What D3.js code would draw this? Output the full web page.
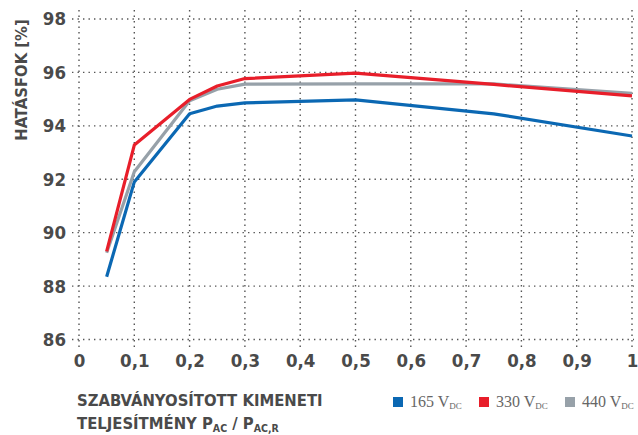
<!DOCTYPE html>
<html>
<head>
<meta charset="utf-8">
<script src="https://cdn.jsdelivr.net/npm/d3@7"></script>
<style>
  body { margin: 0; background: #fff; }
  .lbl { font-family: "Liberation Sans Narrow", "DejaVu Sans Condensed", "Roboto", sans-serif; font-weight: bold; fill: #4a4a4a; font-stretch: condensed; }
  .leg { font-family: "Liberation Serif", "DejaVu Serif", serif; fill: #666; }
</style>
</head>
<body>
<div id="chart"></div>
<script>
// load ratio (P_AC / P_AC,R)
const loads = [0.05, 0.1, 0.2, 0.25, 0.3, 0.5, 0.75, 1.0];
// efficiency [%] per DC voltage
const eff165 = [88.35, 91.9, 94.45, 94.74, 94.86, 94.97, 94.45, 93.62];
const eff330 = [89.3, 93.28, 94.99, 95.49, 95.77, 95.97, 95.55, 95.12];
const eff440 = [89.25, 92.28, 94.94, 95.37, 95.56, 95.57, 95.57, 95.22];
const seriesNames = ["165", "330", "440"];
const colors = ["#0b68b3", "#e81e2a", "#97a1a9"];
const xTicks = [0, 0.1, 0.2, 0.3, 0.4, 0.5, 0.6, 0.7, 0.8, 0.9, 1];
const yTicks = [86, 88, 90, 92, 94, 96, 98];

const width = 638, height = 435;
const svg = d3.select("#chart").append("svg")
  .attr("width", width).attr("height", height);

const x = d3.scaleLinear().domain([0, 1]).range([79, 632]);
const y = d3.scaleLinear().domain([86, 98]).range([339.5, 19]);

const loc = d3.formatLocale({decimal: ",", thousands: " ", grouping: [3], currency: ["", ""]});
const fmt = loc.format("~g");

// grid
svg.append("g").selectAll("line").data(yTicks).join("line")
  .attr("x1", 72).attr("x2", 634)
  .attr("y1", d => y(d)).attr("y2", d => y(d))
  .attr("stroke", "#555").attr("stroke-width", 1.4).attr("stroke-dasharray", "1.4,4.1");
svg.append("g").selectAll("line").data(xTicks).join("line")
  .attr("x1", d => x(d)).attr("x2", d => x(d))
  .attr("y1", 10).attr("y2", 347)
  .attr("stroke", "#555").attr("stroke-width", 1.4).attr("stroke-dasharray", "1.4,4.1");

// axes
const yAxis = svg.append("g").attr("transform", "translate(79,0)")
  .call(d3.axisLeft(y).tickValues(yTicks).tickSize(0).tickPadding(13));
const xAxis = svg.append("g").attr("transform", "translate(0,339.5)")
  .call(d3.axisBottom(x).tickValues(xTicks).tickSize(0).tickPadding(14).tickFormat(fmt));
[yAxis, xAxis].forEach(a => {
  a.select(".domain").remove();
  a.selectAll("text").attr("class", "lbl").attr("font-size", 18.5).attr("fill", null);
});

// lines
const data = [eff165, eff330, eff440].map(vals => loads.map((l, i) => ({x: l, y: vals[i]})));
const line = d3.line().x(d => x(d.x)).y(d => y(d.y));
[0, 2, 1].forEach(i => {
  svg.append("path").datum(data[i])
    .attr("fill", "none").attr("stroke", colors[i])
    .attr("stroke-width", 3.2).attr("stroke-linejoin", "round")
    .attr("d", line);
});

// axis titles
svg.append("text").attr("class", "lbl").attr("font-size", 16.5)
  .attr("transform", "translate(27,80) rotate(-90)")
  .attr("text-anchor", "middle").text("HATÁSFOK [%]");

const t1 = svg.append("text").attr("class", "lbl").attr("font-size", 16.5);
t1.append("tspan").attr("x", 77).attr("y", 406).text("SZABVÁNYOSÍTOTT KIMENETI");
const t2 = svg.append("text").attr("class", "lbl").attr("font-size", 16.5).attr("x", 77).attr("y", 429);
t2.append("tspan").text("TELJESÍTMÉNY P");
t2.append("tspan").attr("font-size", 10.5).attr("dy", 3).text("AC");
t2.append("tspan").attr("dy", -3).text(" / P");
t2.append("tspan").attr("font-size", 10.5).attr("dy", 3).text("AC,R");

// legend
const legX = [393, 479, 565];
const leg = svg.append("g").selectAll("g").data(seriesNames).join("g")
  .attr("transform", (d, i) => `translate(${legX[i]},397)`);
leg.append("rect").attr("width", 10).attr("height", 10).attr("fill", (d, i) => colors[i]);
const lt = leg.append("text").attr("class", "leg").attr("x", 17).attr("y", 10).attr("font-size", 16);
lt.append("tspan").text(d => d + " V");
lt.append("tspan").attr("font-size", 9).attr("dy", 2).text("DC");
</script>
</body>
</html>
